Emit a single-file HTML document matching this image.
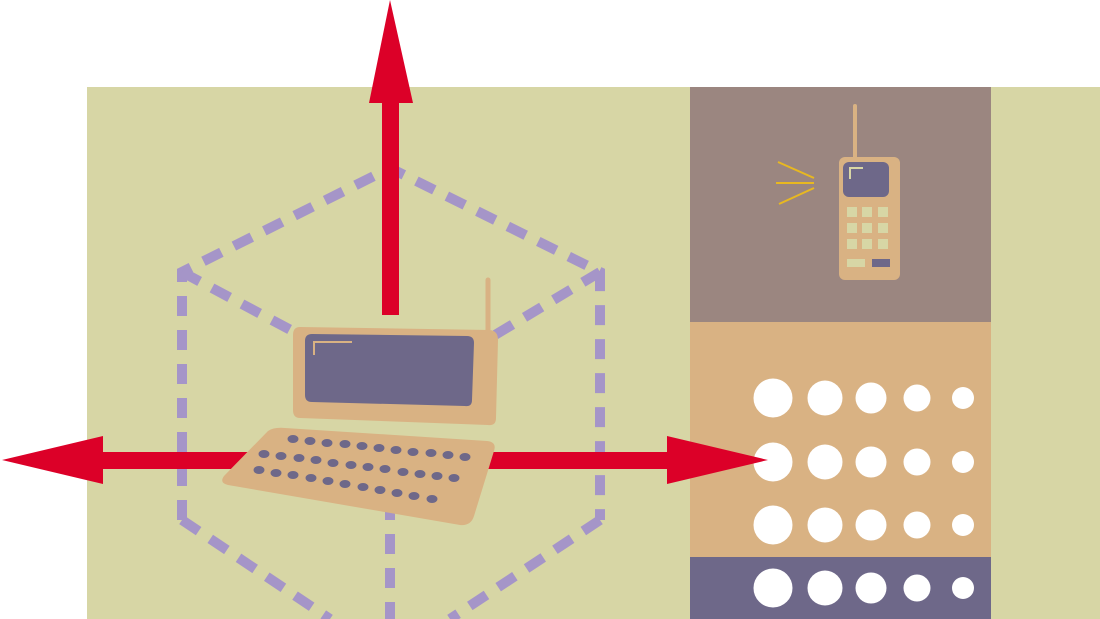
<!DOCTYPE html>
<html><head><meta charset="utf-8"><style>html,body{margin:0;padding:0;background:#fff}svg{display:block}</style></head>
<body>
<svg width="1100" height="619" viewBox="0 0 1100 619" xmlns="http://www.w3.org/2000/svg">
<rect x="0" y="0" width="1100" height="619" fill="#ffffff"/>
<rect x="87" y="87" width="1013" height="532" fill="#d7d6a5"/>
<rect x="690" y="87" width="301" height="235" fill="#9b8680"/>
<rect x="690" y="322" width="301" height="235" fill="#d9b283"/>
<rect x="690" y="557" width="301" height="62" fill="#6e6889"/>
<g fill="#fff">
<g id="row">
<circle cx="773" cy="0" r="19.5"/><circle cx="825" cy="0" r="17.5"/><circle cx="871" cy="0" r="15.5"/><circle cx="917" cy="0" r="13.5"/><circle cx="963" cy="0" r="11"/>
</g>
<use href="#row" y="398"/><use href="#row" y="462"/><use href="#row" y="525"/><use href="#row" y="588"/>
</g>
<g stroke="#a595c8" stroke-width="10" fill="none" stroke-dasharray="20 14">
<polyline points="182,520 182,272 390,168 600,272 600,520"/>
<line x1="182" y1="272" x2="300" y2="335"/>
<line x1="600" y1="272" x2="495" y2="335"/>
<line x1="182" y1="520" x2="330" y2="619"/>
<line x1="600" y1="520" x2="450" y2="619"/>
<line x1="390" y1="500" x2="390" y2="619"/>
</g>
<g fill="#dc0028">
<rect x="382" y="100" width="17" height="215"/>
<polygon points="390,0 369,103 413,103"/>
<rect x="100" y="452" width="600" height="17"/>
<polygon points="2,460 103,436 103,484"/>
<polygon points="768,460 667,436 667,484"/>
</g>
<line x1="488" y1="280" x2="488" y2="332" stroke="#d9b283" stroke-width="5" stroke-linecap="round"/>
<path d="M300,327 L490,330 Q498,331 498,340 L496,418 Q496,426 488,425 L300,418 Q293,418 293,410 L293,335 Q293,327 300,327 Z" fill="#d9b283"/>
<path d="M312,334 L467,336 Q474,336 474,343 L472,400 Q472,407 465,406 L312,402 Q305,402 305,395 L305,341 Q305,334 312,334 Z" fill="#6e6889"/>
<polyline points="314,355 314,342 352,342" stroke="#d9b283" stroke-width="2" fill="none"/>
<path d="M285,428 L487,441 Q497,442 494,451 L474,516 Q471,526 460,525 L228,485 Q219,483 224,476 L268,431 Q274,427 285,428 Z" fill="#d9b283"/>
<g fill="#6e6889">
<ellipse cx="293" cy="439" rx="5.5" ry="4"/><ellipse cx="310" cy="441" rx="5.5" ry="4"/><ellipse cx="327" cy="443" rx="5.5" ry="4"/><ellipse cx="345" cy="444" rx="5.5" ry="4"/><ellipse cx="362" cy="446" rx="5.5" ry="4"/><ellipse cx="379" cy="448" rx="5.5" ry="4"/><ellipse cx="396" cy="450" rx="5.5" ry="4"/><ellipse cx="413" cy="452" rx="5.5" ry="4"/><ellipse cx="431" cy="453" rx="5.5" ry="4"/><ellipse cx="448" cy="455" rx="5.5" ry="4"/><ellipse cx="465" cy="457" rx="5.5" ry="4"/>
<ellipse cx="264" cy="454" rx="5.5" ry="4"/><ellipse cx="281" cy="456" rx="5.5" ry="4"/><ellipse cx="299" cy="458" rx="5.5" ry="4"/><ellipse cx="316" cy="460" rx="5.5" ry="4"/><ellipse cx="333" cy="463" rx="5.5" ry="4"/><ellipse cx="351" cy="465" rx="5.5" ry="4"/><ellipse cx="368" cy="467" rx="5.5" ry="4"/><ellipse cx="385" cy="469" rx="5.5" ry="4"/><ellipse cx="403" cy="472" rx="5.5" ry="4"/><ellipse cx="420" cy="474" rx="5.5" ry="4"/><ellipse cx="437" cy="476" rx="5.5" ry="4"/><ellipse cx="454" cy="478" rx="5.5" ry="4"/>
<ellipse cx="259" cy="470" rx="5.5" ry="4"/><ellipse cx="276" cy="473" rx="5.5" ry="4"/><ellipse cx="293" cy="475" rx="5.5" ry="4"/><ellipse cx="311" cy="478" rx="5.5" ry="4"/><ellipse cx="328" cy="481" rx="5.5" ry="4"/><ellipse cx="345" cy="484" rx="5.5" ry="4"/><ellipse cx="363" cy="487" rx="5.5" ry="4"/><ellipse cx="380" cy="490" rx="5.5" ry="4"/><ellipse cx="397" cy="493" rx="5.5" ry="4"/><ellipse cx="414" cy="496" rx="5.5" ry="4"/><ellipse cx="432" cy="499" rx="5.5" ry="4"/>
</g>
<line x1="855" y1="106" x2="855" y2="160" stroke="#d9b283" stroke-width="4" stroke-linecap="round"/>
<rect x="839" y="157" width="61" height="123" rx="6" fill="#d9b283"/>
<rect x="843" y="162" width="46" height="35" rx="6" fill="#6e6889"/>
<polyline points="850,179 850,168 863,168" stroke="#d9d6a5" stroke-width="2" fill="none"/>
<g fill="#d7d6a5">
<rect x="847" y="207" width="10" height="10"/><rect x="862" y="207" width="10" height="10"/><rect x="878" y="207" width="10" height="10"/>
<rect x="847" y="223" width="10" height="10"/><rect x="862" y="223" width="10" height="10"/><rect x="878" y="223" width="10" height="10"/>
<rect x="847" y="239" width="10" height="10"/><rect x="862" y="239" width="10" height="10"/><rect x="878" y="239" width="10" height="10"/>
<rect x="847" y="259" width="18" height="8"/>
</g>
<rect x="872" y="259" width="18" height="8" fill="#6e6889"/>
<g stroke="#e8b820" stroke-width="2">
<line x1="778" y1="162" x2="814" y2="178"/><line x1="776" y1="183" x2="814" y2="183"/><line x1="779" y1="204" x2="814" y2="188"/>
</g>
</svg>
</body></html>
